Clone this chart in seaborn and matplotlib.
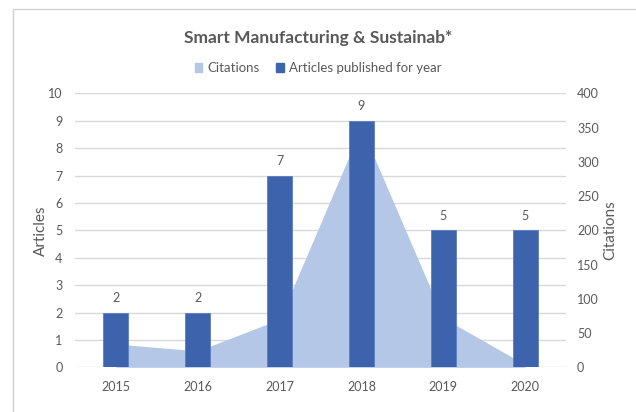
import matplotlib
matplotlib.use("Agg")
import matplotlib.pyplot as plt
import seaborn as sns
import numpy as np
import pandas as pd
from matplotlib.patches import Patch, Rectangle

years = ["2015", "2016", "2017", "2018", "2019", "2020"]
articles = [2, 2, 7, 9, 5, 5]
citations = [34, 24, 70, 350, 72, 4]
left_ticks = list(range(0, 11))
right_ticks = list(range(0, 401, 50))

TEXT = "#595959"
BAR = "#3C63AC"
AREA = "#B4C7E7"
GRID = "#D9D9D9"

sns.set_theme(style="white")
plt.rcParams["font.family"] = ["Lato", "DejaVu Sans"]

df = pd.DataFrame({"year": years, "articles": articles, "citations": citations})

fig = plt.figure(figsize=(6.36, 4.12), dpi=100)
ax = fig.add_axes([75/636, 1-367.3/412, (566-75)/636, (367.3-93.3)/412])
ax2 = ax.twinx()
ax3 = ax.twinx()

# frame of chart area
fig.patches.append(Rectangle((13/636, -0.1), 1.2, 1-9/412+0.1, transform=fig.transFigure,
                             fill=False, edgecolor="#D0D0D0", linewidth=1.0))

TS = 9
# left axis: grid + labels
ax.set_ylim(0, 10)
ax.set_yticks(left_ticks)
ax.set_xlim(-0.5, len(years)-0.5)
ax.set_xticks(range(len(years)))
ax.set_xticklabels(years)
ax.grid(axis="y", color=GRID, linewidth=1.0)
ax.set_axisbelow(True)
for s in ax.spines.values():
    s.set_visible(False)
ax.tick_params(axis="y", length=0, pad=9, labelsize=TS, labelcolor=TEXT)
ax.tick_params(axis="x", length=0, pad=10, labelsize=TS, labelcolor=TEXT)
ax.set_ylabel("Articles", fontsize=11, color=TEXT, labelpad=0)

# area on right axis
x = np.arange(len(years))
ax2.fill_between(x, df["citations"], color=AREA, linewidth=0)
ax2.set_ylim(0, 400)
ax2.set_yticks(right_ticks)
ax2.tick_params(axis="y", length=0, pad=8, labelsize=TS, labelcolor=TEXT)
for s in ax2.spines.values():
    s.set_visible(False)
ax2.set_ylabel("Citations", fontsize=11, color=TEXT, labelpad=3)

# bars on top
sns.barplot(data=df, x="year", y="articles", ax=ax3, color=BAR, width=0.305,
            saturation=1, edgecolor="#5B7FC4", linewidth=0.6)
ax3.set_ylim(0, 10)
ax3.set_xlim(-0.5, len(years)-0.5)
ax3.set_yticks([])
ax3.set_ylabel("")
ax3.set_xlabel("")
ax3.tick_params(axis="x", length=0, labelbottom=False)
for s in ax3.spines.values():
    s.set_visible(False)
for c in ax3.containers:
    ax3.bar_label(c, padding=6, fontsize=TS, color=TEXT)

fig.text(0.5, 1-38/412, "Smart Manufacturing & Sustainab*", ha="center", va="center",
         fontsize=12.5, fontweight="bold", color=TEXT)
handles = [Patch(color=AREA, label="Citations"), Patch(color=BAR, label="Articles published for year")]
fig.legend(handles=handles, loc="center", bbox_to_anchor=(0.5, 1-68/412), ncol=2, frameon=False,
           fontsize=9.5, labelcolor=TEXT, handlelength=0.6, handleheight=0.6, handletextpad=0.4,
           columnspacing=1.2)

fig.savefig("out.png", dpi=100)
